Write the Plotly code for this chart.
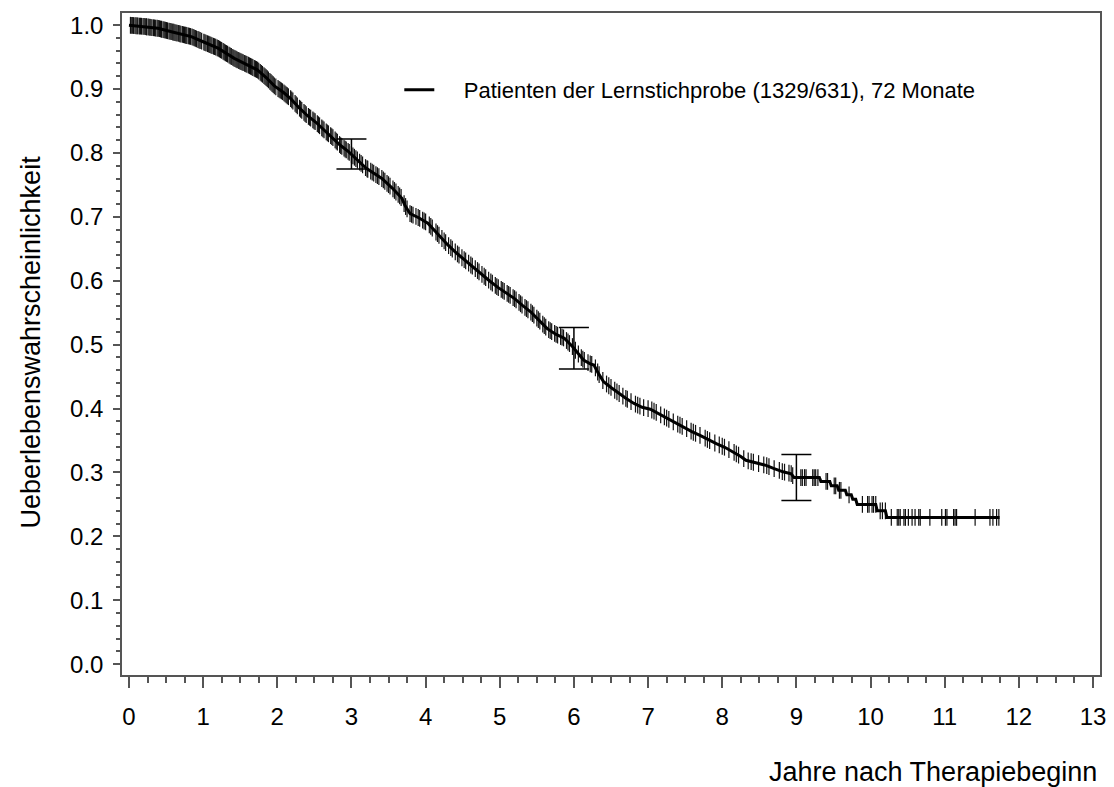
import numpy as np
import plotly.graph_objects as go

# Kaplan-Meier curve (years, survival probability)
surv_t = [0.00, 0.20, 0.39, 0.60, 0.84, 1.00, 1.20, 1.42, 1.60, 1.73, 1.85, 1.96, 2.08, 2.18,
          2.30, 2.40, 2.52, 2.63, 2.75, 2.85, 2.96, 3.07, 3.20, 3.41, 3.55, 3.68, 3.72, 3.79,
          3.90, 4.03, 4.15, 4.30, 4.42, 4.53, 4.65, 4.75, 4.86, 4.97, 5.08, 5.20, 5.31, 5.42,
          5.53, 5.64, 5.76, 5.87, 5.98, 6.09, 6.13, 6.22, 6.27, 6.33, 6.40, 6.50, 6.58, 6.70,
          6.81, 6.92, 7.03, 7.14, 7.25, 7.36, 7.48, 7.59, 7.70, 7.81, 7.92, 8.04, 8.15, 8.25,
          8.32, 8.45, 8.59, 8.70, 8.82, 8.93, 8.97, 9.31, 9.33, 9.45, 9.47, 9.55, 9.57, 9.66,
          9.68, 9.74, 9.76, 9.80, 9.82, 10.07, 10.09, 10.20, 10.22, 11.74]
surv_s = [1.000, 0.998, 0.995, 0.989, 0.982, 0.974, 0.964, 0.948, 0.938, 0.930, 0.918, 0.905,
          0.895, 0.885, 0.870, 0.859, 0.848, 0.836, 0.824, 0.812, 0.802, 0.790, 0.776, 0.760,
          0.745, 0.729, 0.718, 0.705, 0.699, 0.690, 0.675, 0.656, 0.643, 0.632, 0.621, 0.611,
          0.600, 0.590, 0.582, 0.572, 0.561, 0.551, 0.538, 0.525, 0.516, 0.510, 0.497, 0.481,
          0.476, 0.470, 0.468, 0.455, 0.442, 0.433, 0.426, 0.416, 0.408, 0.402, 0.399, 0.392,
          0.385, 0.378, 0.371, 0.364, 0.358, 0.351, 0.345, 0.339, 0.332, 0.325, 0.319, 0.315,
          0.311, 0.306, 0.301, 0.298, 0.292, 0.292, 0.286, 0.286, 0.279, 0.279, 0.272, 0.272,
          0.265, 0.265, 0.258, 0.258, 0.250, 0.250, 0.240, 0.240, 0.2296, 0.2296]

# censored observations (years)
censor_t = [0.02, 0.03, 0.06, 0.08, 0.11, 0.12, 0.14, 0.17, 0.19, 0.22, 0.24, 0.26, 0.28, 0.31,
            0.33, 0.36, 0.38, 0.41, 0.44, 0.46, 0.49, 0.52, 0.54, 0.57, 0.59, 0.62, 0.65, 0.67,
            0.70, 0.72, 0.75, 0.78, 0.80, 0.83, 0.85, 0.88, 0.91, 0.93, 0.96, 0.98, 1.01, 1.04,
            1.06, 1.09, 1.12, 1.14, 1.17, 1.19, 1.22, 1.25, 1.27, 1.30, 1.33, 1.35, 1.38, 1.40,
            1.43, 1.46, 1.48, 1.51, 1.54, 1.56, 1.59, 1.61, 1.64, 1.67, 1.69, 1.72, 1.75, 1.77,
            1.80, 1.82, 1.85, 1.88, 1.90, 1.93, 1.96, 1.98, 2.01, 2.04, 2.07, 2.09, 2.12, 2.15,
            2.18, 2.21, 2.24, 2.27, 2.30, 2.33, 2.36, 2.39, 2.42, 2.45, 2.48, 2.51, 2.54, 2.57,
            2.60, 2.63, 2.66, 2.69, 2.72, 2.75, 2.78, 2.81, 2.84, 2.87, 2.90, 2.93, 2.97, 3.00,
            3.04, 3.08, 3.11, 3.15, 3.19, 3.22, 3.26, 3.30, 3.33, 3.37, 3.41, 3.45, 3.48, 3.52,
            3.56, 3.60, 3.63, 3.67, 3.71, 3.75, 3.79, 3.83, 3.87, 3.92, 3.96, 4.00, 4.05, 4.09,
            4.14, 4.18, 4.22, 4.27, 4.31, 4.36, 4.40, 4.45, 4.49, 4.54, 4.58, 4.63, 4.67, 4.72,
            4.76, 4.81, 4.85, 4.90, 4.94, 4.98, 5.02, 5.06, 5.10, 5.14, 5.18, 5.22, 5.26, 5.30,
            5.34, 5.38, 5.42, 5.46, 5.50, 5.54, 5.58, 5.62, 5.66, 5.70, 5.74, 5.78, 5.82, 5.86,
            5.90, 5.94, 5.98, 6.02, 6.06, 6.10, 6.14, 6.19, 6.24, 6.29, 6.34, 6.39, 6.44, 6.50,
            6.55, 6.61, 6.66, 6.72, 6.77, 6.83, 6.89, 6.94, 7.00, 7.05, 7.11, 7.17, 7.22, 7.28,
            7.34, 7.40, 7.46, 7.52, 7.58, 7.64, 7.70, 7.77, 7.83, 7.90, 7.96, 8.03, 8.09, 8.16,
            8.22, 8.29, 8.35, 8.42, 8.49, 8.56, 8.63, 8.70, 8.77, 8.84, 8.90, 8.93, 8.95, 9.06,
            9.08, 9.11, 9.13, 9.22, 9.24, 9.26, 9.29, 9.40, 9.42, 9.51, 9.53, 9.58, 9.60, 9.71,
            9.89, 9.96, 9.98, 10.02, 10.04, 10.07, 10.13, 10.16, 10.20, 10.28, 10.36, 10.38,
            10.40, 10.45, 10.47, 10.51, 10.56, 10.60, 10.65, 10.67, 10.80, 10.96, 11.01, 11.03,
            11.12, 11.14, 11.16, 11.41, 11.61, 11.65, 11.70, 11.73]
censor_t_more = [0.045, 0.095, 0.155, 0.205, 0.235, 0.295, 0.345, 0.395, 0.425, 0.475, 0.505,
                 0.555, 0.605, 0.635, 0.685, 0.735, 0.765, 0.815, 0.865, 0.895, 0.945, 1.025,
                 1.075, 1.105, 1.155, 1.205, 1.235, 1.285, 1.315, 1.365, 1.415, 1.445, 1.495,
                 1.525, 1.575, 1.625, 1.655, 1.705, 1.735, 1.785, 1.835, 1.865, 1.915, 1.945,
                 2.025, 2.055, 2.105, 2.135, 2.195, 2.255, 2.315, 2.375, 2.435, 2.495, 2.555,
                 2.615, 2.675, 2.735, 2.795, 2.855, 2.915, 2.955, 3.02, 3.06, 3.13, 3.21, 3.28,
                 3.35, 3.43, 3.50, 3.58, 3.65, 3.73, 3.81, 3.90, 3.98, 4.07, 4.16, 4.25, 4.34,
                 4.43, 4.52, 4.61, 4.70, 4.79, 4.88, 4.96, 5.04, 5.12, 5.20, 5.28, 5.36, 5.44,
                 5.52, 5.60, 5.68, 5.76, 5.84, 5.92, 6.12, 6.22, 6.32, 6.47, 6.58, 6.70, 6.86,
                 7.08, 7.25, 7.43, 7.61, 7.80, 8.00, 8.19, 8.39, 8.60, 8.81]

# confidence intervals at 3, 6 and 9 years
ci_t = [3, 6, 9]
ci_lo = [0.775, 0.462, 0.256]
ci_hi = [0.822, 0.527, 0.328]

x_ticks = list(range(0, 14))
y_ticks = [round(0.1 * i, 1) for i in range(11)]

legend_label = "Patienten der Lernstichprobe (1329/631), 72 Monate"
x_title = "Jahre nach Therapiebeginn"
y_title = "Ueberlebenswahrscheinlichkeit"

FONT = "Liberation Sans, Arial, sans-serif"
AXC = "#555555"

all_censor = censor_t + censor_t_more
censor_s = np.interp(all_censor, surv_t, surv_s)
ci_mid = [(a + b) / 2 for a, b in zip(ci_lo, ci_hi)]

fig = go.Figure()
fig.add_trace(go.Scatter(
    x=all_censor, y=censor_s, mode="markers", showlegend=False, hoverinfo="skip",
    marker=dict(symbol="line-ns", size=12, line=dict(width=1.2, color="#111111"))))
fig.add_trace(go.Scatter(
    x=surv_t, y=surv_s, mode="lines", name="\u00a0\u00a0\u00a0\u00a0" + legend_label,
    line=dict(color="black", width=3)))
fig.add_trace(go.Scatter(
    x=ci_t, y=ci_mid, mode="markers", showlegend=False, hoverinfo="skip",
    marker=dict(size=1, opacity=0),
    error_y=dict(type="data", symmetric=False,
                 array=[h - m for h, m in zip(ci_hi, ci_mid)],
                 arrayminus=[m - l for m, l in zip(ci_mid, ci_lo)],
                 width=15, thickness=1.5, color="black")))

fig.update_layout(
    width=1114, height=787,
    margin=dict(l=122, r=8, t=13, b=112),
    paper_bgcolor="white", plot_bgcolor="white",
    font=dict(family=FONT, color="black"),
    showlegend=True,
    legend=dict(x=(401 - 122) / 984, y=(675 - 90) / 662, xanchor="left", yanchor="middle",
                bgcolor="rgba(0,0,0,0)", font=dict(size=22, family=FONT)),
    xaxis=dict(range=[-0.094, 13.094], tickvals=x_ticks, ticktext=[str(v) for v in x_ticks],
               showgrid=False, zeroline=False, showline=True, linecolor=AXC, linewidth=1.5,
               mirror=True, ticks="outside", ticklen=11, tickwidth=1.5, tickcolor=AXC,
               tickfont=dict(size=24), ticklabelstandoff=8,
               minor=dict(dtick=0.25, ticks="outside", ticklen=6, tickwidth=1.5,
                          tickcolor=AXC, showgrid=False)),
    yaxis=dict(range=[-0.017, 1.019], tickvals=y_ticks, ticktext=[f"{v:.1f}" for v in y_ticks],
               showgrid=False, zeroline=False, showline=True, linecolor=AXC, linewidth=1.5,
               mirror=True, ticks="outside", ticklen=7, tickwidth=1.5, tickcolor=AXC,
               tickfont=dict(size=24), ticklabelstandoff=5,
               minor=dict(dtick=0.02, ticks="outside", ticklen=4, tickwidth=1.5,
                          tickcolor=AXC, showgrid=False)),
    annotations=[
        dict(text=x_title, xref="paper", yref="paper", x=(1105 - 122) / 984,
             y=(675 - 772) / 662, xanchor="right", yanchor="middle", showarrow=False,
             font=dict(size=27, family=FONT)),
        dict(text=y_title, xref="paper", yref="paper", x=(30 - 122) / 984,
             y=(675 - 342) / 662, xanchor="center", yanchor="middle", textangle=-90,
             showarrow=False, font=dict(size=27, family=FONT)),
    ],
)

fig.write_html("out.html")
